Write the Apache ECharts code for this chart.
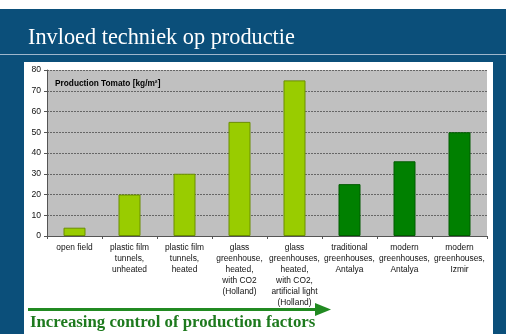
<!DOCTYPE html>
<html><head><meta charset="utf-8">
<script src="https://cdn.jsdelivr.net/npm/echarts@6/dist/echarts.min.js"></script>
<style>html,body{margin:0;padding:0;background:#fff}#c{width:506px;height:334px}</style>
</head><body><div id="c"></div>
<script>
var categories = ['open field', 'plastic film\ntunnels,\nunheated', 'plastic film\ntunnels,\nheated', 'glass\ngreenhouse,\nheated,\nwith CO2\n(Holland)', 'glass\ngreenhouses,\nheated,\nwith CO2,\nartificial light\n(Holland)', 'traditional\ngreenhouses,\nAntalya', 'modern\ngreenhouses,\nAntalya', 'modern\ngreenhouses,\nIzmir'];
var values = [4, 20, 30, 55, 75, 25, 36, 50];
var barColors = ['#99CC00', '#99CC00', '#99CC00', '#99CC00', '#99CC00', '#008000', '#008000', '#008000'];
var yTicks = [0, 10, 20, 30, 40, 50, 60, 70, 80];

var chart = echarts.init(document.getElementById('c'), null, {renderer: 'canvas'});
chart.setOption({
  animation: false,
  backgroundColor: '#fff',
  graphic: [
    {type: 'rect', z: -10, shape: {x: 0, y: 9, width: 506, height: 325}, style: {fill: '#0B4F7A'}},
    {type: 'rect', z: -9, shape: {x: 24, y: 62, width: 469, height: 272}, style: {fill: '#ffffff'}},
    {type: 'rect', z: -9, shape: {x: 0, y: 54, width: 506, height: 1}, style: {fill: '#9FB7CC'}},
    {type: 'text', z: 5, left: 28, top: 27, style: {text: 'Invloed techniek op productie', fill: '#ffffff', font: '22.3px "Liberation Serif", "Times New Roman", serif'}},
    {type: 'text', z: 5, left: 55, top: 80, style: {text: 'Production Tomato [kg/m²]', fill: '#000', font: 'bold 8.3px "Liberation Sans", Arial, sans-serif'}},
    {type: 'line', z: 5, shape: {x1: 28, y1: 309.5, x2: 318, y2: 309.5}, style: {stroke: '#218A21', lineWidth: 3}},
    {type: 'polygon', z: 5, shape: {points: [[315, 303], [331, 309.5], [315, 316]]}, style: {fill: '#218A21'}},
    {type: 'text', z: 5, left: 30, top: 314, style: {text: 'Increasing control of production factors', fill: '#1E7A1E', font: 'bold 16.8px "Liberation Serif", "Times New Roman", serif'}}
  ],
  grid: {left: 47, right: 19, top: 70, bottom: 98, show: true, backgroundColor: '#C0C0C0', borderWidth: 0},
  xAxis: {
    type: 'category', data: categories,
    axisLine: {lineStyle: {color: '#555', width: 1}},
    axisTick: {show: true, alignWithLabel: false, length: 3, lineStyle: {color: '#555'}},
    axisLabel: {interval: 0, color: '#111', fontSize: 8.4, lineHeight: 11, fontFamily: '"Liberation Sans", Arial, sans-serif', margin: 6}
  },
  yAxis: {
    type: 'value', min: 0, max: 80, interval: 10,
    axisLine: {show: true, lineStyle: {color: '#555'}},
    axisTick: {show: true, length: 3, lineStyle: {color: '#555'}},
    axisLabel: {color: '#111', fontSize: 8.6, margin: 6, fontFamily: '"Liberation Sans", Arial, sans-serif',
      formatter: function (v) { return yTicks.indexOf(v) >= 0 ? String(v) : ''; }},
    splitLine: {show: true, lineStyle: {color: '#666', type: [2, 1], width: 1}}
  },
  series: [{
    type: 'bar', barWidth: 22,
    data: values.map(function (v, i) { return {value: v, itemStyle: {color: barColors[i], borderColor: i < 5 ? '#6B8E00' : '#005A00', borderWidth: 1}}; })
  }]
});
</script></body></html>
